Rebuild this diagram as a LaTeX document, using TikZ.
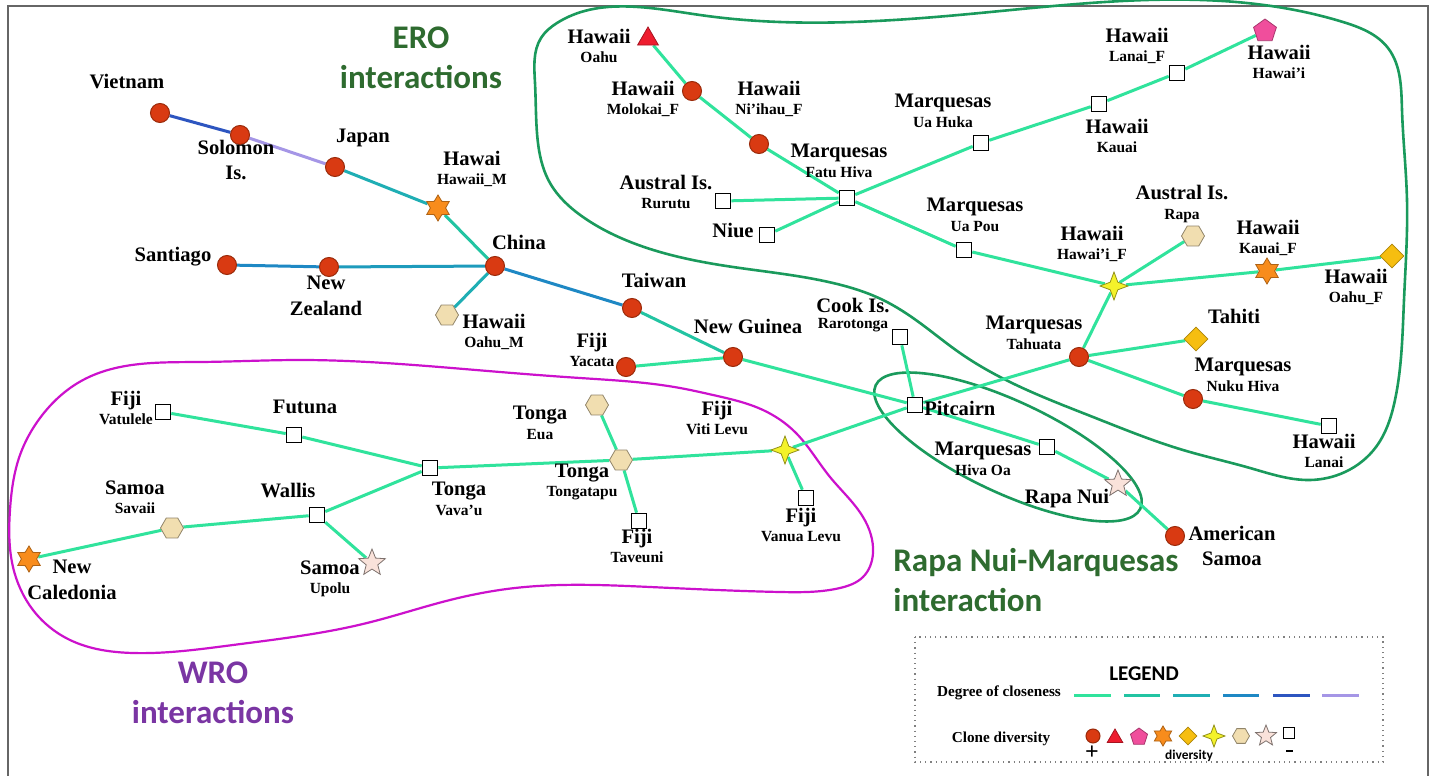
\documentclass[tikz,border=0pt]{standalone}
\usepackage{fontspec}
\setmainfont{Liberation Serif}
\newfontfamily\carlito{Carlito}
\usepackage{tikz}
\usetikzlibrary{shapes,positioning,hobby,backgrounds}

\definecolor{degA}{HTML}{30E39C}
\definecolor{degB}{HTML}{22C4A2}
\definecolor{degC}{HTML}{1FAEB4}
\definecolor{degD}{HTML}{1E88C4}
\definecolor{degE}{HTML}{2D55C0}
\definecolor{degF}{HTML}{A596E6}
\definecolor{cRed}{HTML}{D93A12}
\definecolor{cRedD}{HTML}{9A2A0A}
\definecolor{cTri}{HTML}{EE1C2E}
\definecolor{cPink}{HTML}{F04E9C}
\definecolor{cOrange}{HTML}{F88C1C}
\definecolor{cGold}{HTML}{F6BE10}
\definecolor{cYellow}{HTML}{F4F22A}
\definecolor{cHex}{HTML}{F1DEB0}
\definecolor{cPale}{HTML}{F9E2DA}
\definecolor{eroGreen}{HTML}{1A9A5C}
\definecolor{eroText}{HTML}{2E6B2F}
\definecolor{wroMagenta}{HTML}{CC11CC}
\definecolor{wroText}{HTML}{7A35A3}

\newcommand{\bigname}[1]{{\fontsize{10.3}{9.7}\selectfont #1}}

\begin{document}
\begin{tikzpicture}[
		x=0.5pt, y=-0.5pt,
		lab/.style={
			align=center,
			inner sep=0pt,
			font=\fontsize{7.75}{9.7}\selectfont\bfseries
			},
		labbig/.style={
			align=center,
			inner sep=0pt,
			font=\fontsize{10.3}{12.7}\selectfont\bfseries
			},
		headline/.style={
			align=center,
			inner sep=0pt,
			font=\carlito\bfseries\fontsize{16.5}{20}\selectfont
			},
		link/.style={
			draw=#1,
			line width=1.5pt
			},
		link/.default=degA,
		ero/.style={draw=eroGreen, line width=1.3pt},
		wro/.style={draw=wroMagenta, line width=1.1pt},
		hub/.style={circle, fill=cRed, draw=cRedD, line width=0.5pt, minimum size=9.5pt, inner sep=0pt},
		tri/.style={regular polygon, regular polygon sides=3, fill=cTri, draw=cTri!70!black, line width=0.4pt, minimum size=12pt, inner sep=0pt},
		penta/.style={regular polygon, regular polygon sides=5, fill=cPink, draw=cPink!70!black, line width=0.4pt, minimum size=12pt, inner sep=0pt},
		sixstar/.style={star, star points=6, star point ratio=1.7, fill=cOrange, draw=cOrange!70!black, line width=0.4pt, minimum size=13pt, inner sep=0pt},
		gem/.style={diamond, fill=cGold, draw=cGold!70!black, line width=0.4pt, minimum size=12pt, inner sep=0pt},
		fourstar/.style={star, star points=4, star point ratio=2.6, fill=cYellow, draw=cYellow!60!black, line width=0.4pt, minimum size=14pt, inner sep=0pt},
		hexa/.style={regular polygon, regular polygon sides=6, fill=cHex, draw=cHex!60!black, line width=0.4pt, minimum size=11.5pt, inner sep=0pt},
		fivestar/.style={star, star points=5, star point ratio=2.3, fill=cPale, draw=cPale!50!black, line width=0.4pt, minimum size=14pt, inner sep=0pt},
		sq/.style={rectangle, fill=white, draw=black, line width=0.8pt, minimum size=7.5pt, inner sep=0pt}
		]
	\useasboundingbox (0,0) rectangle (1432,776);

	% Place nodes
	\node[hub] (vietnam) at (160,113) {};
	\node[hub] (solomon) at (240,135) {};
	\node[hub] (japan) at (335,167) {};
	\node[sixstar] (hawaiim) at (438,208) {};
	\node[hub] (china) at (495,266) {};
	\node[hub] (santiago) at (227,265) {};
	\node[hub] (newzealand) at (329,267) {};
	\node[hexa] (oahum) at (447,315) {};
	\node[hub] (taiwan) at (632,308) {};
	\node[hub] (newguinea) at (733,357) {};
	\node[hub] (yacata) at (626,367) {};
	\node[sq] (cook) at (900,337) {};
	\node[sq] (pitcairn) at (915,405) {};
	\node[sq] (hivaoa) at (1047,447) {};
	\node[fivestar] (rapanui) at (1118,484) {};
	\node[hub] (amsamoa) at (1175,536) {};
	\node[hub] (tahuata) at (1079,357) {};
	\node[gem] (tahiti) at (1196,339) {};
	\node[hub] (nukuhiva) at (1193,399) {};
	\node[sq] (lanai) at (1329,426) {};
	\node[fourstar] (hawaiif) at (1114,286) {};
	\node[hexa] (rapa) at (1193,236) {};
	\node[sixstar] (kauaif) at (1267,271) {};
	\node[gem] (oahuf) at (1392,256) {};
	\node[sq] (uapou) at (964,250) {};
	\node[sq] (fatuhiva) at (847,198) {};
	\node[hub] (niihauf) at (759,144) {};
	\node[hub] (molokaif) at (692,91) {};
	\node[tri] (oahu) at (648,39) {};
	\node[sq] (rurutu) at (723,201) {};
	\node[sq] (niue) at (767,235) {};
	\node[sq] (uahuka) at (981,143) {};
	\node[sq] (kauai) at (1099,104) {};
	\node[sq] (lanaif) at (1177,73) {};
	\node[penta] (bigisland) at (1265,31) {};
	\node[sq] (vatulele) at (163,412) {};
	\node[sq] (futuna) at (294,435) {};
	\node[sq] (vavau) at (430,468) {};
	\node[sq] (wallis) at (317,515) {};
	\node[hexa] (savaii) at (172,528) {};
	\node[sixstar] (newcaledonia) at (29,559) {};
	\node[fivestar] (upolu) at (372,563) {};
	\node[hexa] (eua) at (597,405) {};
	\node[hexa] (tongatapu) at (621,460) {};
	\node[sq] (taveuni) at (639,521) {};
	\node[fourstar] (vitilevu) at (785,450) {};
	\node[sq] (vanualevu) at (806,498) {};

	% Place labels
	\node[lab] (t-vietnam) at (127,82) {\bigname{Vietnam}};
	\node[labbig] (t-solomon) at (236,160) {Solomon\\Is.};
	\node[lab] (t-japan) at (363,138) {\bigname{Japan}};
	\node[lab] (t-hawaiim) at (472,169) {\bigname{Hawai}\\Hawaii\_M};
	\node[lab] (t-china) at (519,242) {\bigname{China}};
	\node[lab] (t-santiago) at (173,257) {\bigname{Santiago}};
	\node[labbig] (t-newzealand) at (326,296) {New\\Zealand};
	\node[lab] (t-oahum) at (494,332) {\bigname{Hawaii}\\Oahu\_M};
	\node[lab] (t-taiwan) at (654,280) {\bigname{Taiwan}};
	\node[lab] (t-newguinea) at (748,326) {\bigname{New Guinea}};
	\node[lab] (t-yacata) at (592,350) {\bigname{Fiji}\\Yacata};
	\node[lab] (t-cook) at (853,315) {\bigname{Cook Is.}\\[-2pt]Rarotonga};
	\node[lab, anchor=west] (t-pitcairn) at (924,408) {\bigname{Pitcairn}};
	\node[lab] (t-hivaoa) at (983,459) {\bigname{Marquesas}\\Hiva Oa};
	\node[lab] (t-rapanui) at (1067,499) {\bigname{Rapa Nui}};
	\node[labbig] (t-amsamoa) at (1232,546) {American\\Samoa};
	\node[lab] (t-tahuata) at (1034,333) {\bigname{Marquesas}\\Tahuata};
	\node[lab] (t-tahiti) at (1234,316) {\bigname{Tahiti}};
	\node[lab] (t-nukuhiva) at (1243,375) {\bigname{Marquesas}\\Nuku Hiva};
	\node[lab] (t-lanai) at (1324,451) {\bigname{Hawaii}\\Lanai};
	\node[lab] (t-hawaiif) at (1092,244) {\bigname{Hawaii}\\Hawai'i\_F};
	\node[lab] (t-rapa) at (1182,204) {\bigname{Austral Is.}\\Rapa};
	\node[lab] (t-kauaif) at (1268,238) {\bigname{Hawaii}\\Kauai\_F};
	\node[lab] (t-oahuf) at (1356,287) {\bigname{Hawaii}\\Oahu\_F};
	\node[lab] (t-uapou) at (975,215) {\bigname{Marquesas}\\Ua Pou};
	\node[lab] (t-fatuhiva) at (839,161) {\bigname{Marquesas}\\Fatu Hiva};
	\node[lab] (t-niihauf) at (769,99) {\bigname{Hawaii}\\Ni'ihau\_F};
	\node[lab] (t-molokaif) at (643,99) {\bigname{Hawaii}\\Molokai\_F};
	\node[lab] (t-oahu) at (599,46) {\bigname{Hawaii}\\Oahu};
	\node[lab] (t-rurutu) at (666,192) {\bigname{Austral Is.}\\Rurutu};
	\node[lab] (t-niue) at (733,230) {\bigname{Niue}};
	\node[lab] (t-uahuka) at (943,111) {\bigname{Marquesas}\\Ua Huka};
	\node[lab] (t-kauai) at (1117,136) {\bigname{Hawaii}\\Kauai};
	\node[lab] (t-lanaif) at (1137,46) {\bigname{Hawaii}\\Lanai\_F};
	\node[lab] (t-bigisland) at (1279,62) {\bigname{Hawaii}\\Hawai'i};
	\node[lab] (t-vatulele) at (126,408) {\bigname{Fiji}\\Vatulele};
	\node[lab] (t-futuna) at (305,407) {\bigname{Futuna}};
	\node[lab] (t-vavau) at (459,499) {\bigname{Tonga}\\Vava'u};
	\node[lab] (t-wallis) at (288,491) {\bigname{Wallis}};
	\node[lab] (t-savaii) at (135,497) {\bigname{Samoa}\\Savaii};
	\node[labbig] (t-newcaledonia) at (72,580) {New\\Caledonia};
	\node[lab] (t-upolu) at (330,579) {\bigname{Samoa}\\Upolu};
	\node[lab] (t-eua) at (540,423) {\bigname{Tonga}\\Eua};
	\node[lab] (t-tongatapu) at (582,482) {\bigname{Tonga}\\Tongatapu};
	\node[lab] (t-taveuni) at (637,546) {\bigname{Fiji}\\Taveuni};
	\node[lab] (t-vitilevu) at (717,418) {\bigname{Fiji}\\Viti Levu};
	\node[lab] (t-vanualevu) at (801,525) {\bigname{Fiji}\\Vanua Levu};

	% Group titles
	\node[headline, text=eroText] (erotitle) at (421,58) {ERO\\interactions};
	\node[headline, text=wroText] (wrotitle) at (213,693) {WRO\\interactions};
	\node[headline, text=eroText, align=left, anchor=west] (rapatitle) at (893,580) {Rapa Nui-Marquesas\\interaction};

	% Legend
	\draw[gray, dotted, line width=0.6pt] (915,637) rectangle (1383,762);
	\node[font=\carlito\bfseries\fontsize{10.5}{12}\selectfont] (legend) at (1144,674) {LEGEND};
	\node[font=\bfseries\fontsize{7.6}{9}\selectfont] (closeness) at (999,693) {Degree of closeness};
	\node[font=\bfseries\fontsize{7.6}{9}\selectfont] (diversity) at (1001,739) {Clone diversity};
	\draw[link=degA] (1074,695) -- (1111,695);
	\draw[link=degB] (1124,695) -- (1160,695);
	\draw[link=degC] (1173,695) -- (1210,695);
	\draw[link=degD] (1223,695) -- (1259,695);
	\draw[link=degE] (1273,695) -- (1310,695);
	\draw[link=degF] (1322,695) -- (1359,695);
	\node[hub, minimum size=7pt] (k1) at (1093,736) {};
	\node[tri, minimum size=9pt] (k2) at (1115,738) {};
	\node[penta, minimum size=9pt] (k3) at (1139,737) {};
	\node[sixstar, minimum size=10pt] (k4) at (1163,736) {};
	\node[gem, minimum size=9pt] (k5) at (1188,736) {};
	\node[fourstar, minimum size=11pt] (k6) at (1214,736) {};
	\node[hexa, minimum size=8.5pt] (k7) at (1241,736) {};
	\node[fivestar, minimum size=11pt] (k8) at (1266,736) {};
	\node[sq, minimum size=5.5pt] (k9) at (1289,733) {};
	\node[font=\bfseries\fontsize{12}{12}\selectfont] (plus) at (1092,753) {+};
	\node[font=\carlito\bfseries\fontsize{6.7}{8}\selectfont] (divword) at (1189,756) {diversity};
	\node[fill=black, inner sep=0pt, minimum width=3.5pt, minimum height=1.3pt] (minus) at (1289,751) {};

	% Draw curves and edges
	\begin{scope}[on background layer]
		\fill[white] (0,0) rectangle (1432,776);
		\draw[gray!80!black, line width=0.6pt] (8,790) -- (8,6) -- (1428,6) -- (1428,790);
		\draw[ero, use Hobby shortcut, closed=true] (557,23) .. (700,15) .. (980,13) .. (1343,22) .. (1388,48) .. (1402,110) .. (1407,200) .. (1404,300) .. (1395,400) .. (1376,447) .. (1345,472) .. (1310,480) .. (1250,468) .. (1183,450) .. (1093,417) .. (1027,390) .. (960,353) .. (920,323) .. (883,300) .. (833,283) .. (733,267) .. (633,243) .. (583,217) .. (550,183) .. (537,133) .. (535,83) .. (541,38);
		\draw[wro, use Hobby shortcut, closed=true] (83,380) .. (200,362) .. (300,360) .. (400,364) .. (500,372) .. (580,378) .. (680,388) .. (713,395) .. (763,410) .. (796,433) .. (830,477) .. (863,517) .. (873,553) .. (863,577) .. (840,588) .. (780,592) .. (650,587) .. (515,588) .. (450,600) .. (367,623) .. (233,645) .. (133,653) .. (70,640) .. (33,610) .. (13,567) .. (10,510) .. (20,455) .. (40,418);
		\draw[ero, rotate around={-25:(1008,447)}] (1008,447) ellipse [x radius=146, y radius=46];

		\path[link=degE] (vietnam) -- (solomon);
		\path[link=degF] (solomon) -- (japan);
		\path[link=degC] (japan) -- (hawaiim);
		\path[link=degB] (hawaiim) -- (china);
		\path[link=degD] (santiago) -- (newzealand);
		\path[link=degC!50!degD] (newzealand) -- (china);
		\path[link=degC] (china) -- (oahum);
		\path[link=degD] (china) -- (taiwan);
		\path[link=degB] (taiwan) -- (newguinea);
		\path[link] (newguinea) -- (yacata);
		\path[link] (newguinea) -- (pitcairn);
		\path[link] (cook) -- (pitcairn);
		\path[link] (pitcairn) -- (vitilevu);
		\path[link] (pitcairn) -- (hivaoa);
		\path[link] (pitcairn) -- (tahuata);
		\path[link] (hivaoa) -- (rapanui);
		\path[link] (rapanui) -- (amsamoa);
		\path[link] (vitilevu) -- (vanualevu);
		\path[link] (vitilevu) -- (tongatapu);
		\path[link] (tongatapu) -- (eua);
		\path[link] (tongatapu) -- (taveuni);
		\path[link] (tongatapu) -- (vavau);
		\path[link] (vavau) -- (futuna);
		\path[link] (futuna) -- (vatulele);
		\path[link] (vavau) -- (wallis);
		\path[link] (wallis) -- (upolu);
		\path[link] (wallis) -- (savaii);
		\path[link] (savaii) -- (newcaledonia);
		\path[link] (tahuata) -- (hawaiif);
		\path[link] (tahuata) -- (tahiti);
		\path[link] (tahuata) -- (nukuhiva);
		\path[link] (nukuhiva) -- (lanai);
		\path[link] (hawaiif) -- (uapou);
		\path[link] (uapou) -- (fatuhiva);
		\path[link] (fatuhiva) -- (niihauf);
		\path[link] (niihauf) -- (molokaif);
		\path[link] (molokaif) -- (oahu);
		\path[link] (fatuhiva) -- (rurutu);
		\path[link] (fatuhiva) -- (niue);
		\path[link] (fatuhiva) -- (uahuka);
		\path[link] (uahuka) -- (kauai);
		\path[link] (kauai) -- (lanaif);
		\path[link] (lanaif) -- (bigisland);
		\path[link] (hawaiif) -- (rapa);
		\path[link] (hawaiif) -- (kauaif);
		\path[link] (kauaif) -- (oahuf);
	\end{scope}
\end{tikzpicture}
\end{document}
